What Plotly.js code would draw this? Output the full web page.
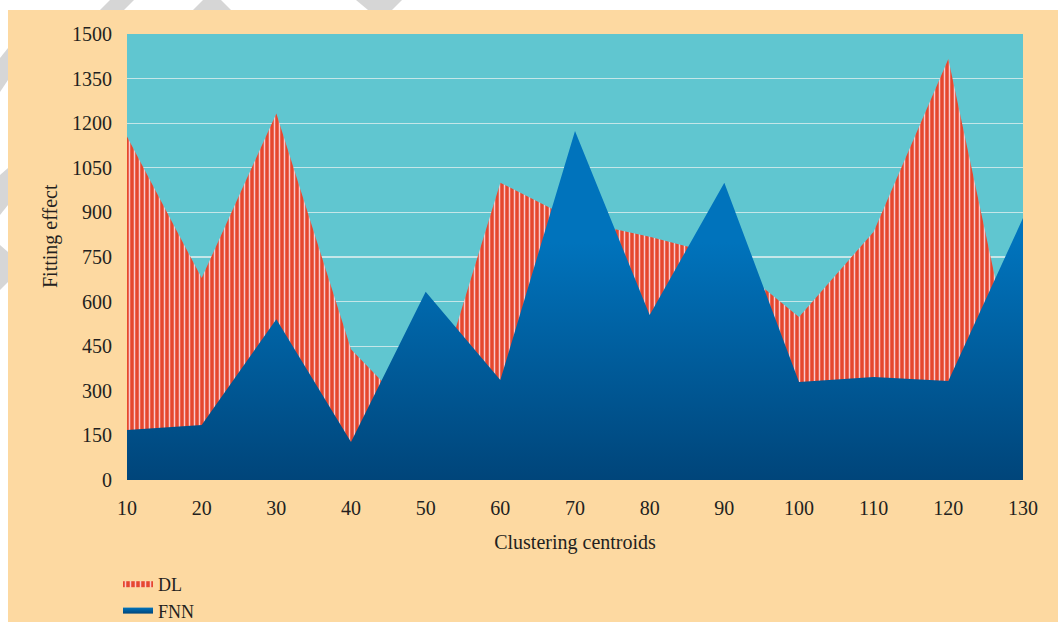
<!DOCTYPE html>
<html>
<head>
<meta charset="utf-8">
<script src="https://cdn.plot.ly/plotly-3.0.1.min.js"></script>
<style>
html,body{margin:0;padding:0;background:#ffffff;}
#chart{width:1058px;height:622px;}
</style>
</head>
<body>
<div id="chart"></div>
<script>
// ---- data ----
const centroids = [10, 20, 30, 40, 50, 60, 70, 80, 90, 100, 110, 120, 130];
const dlValues  = [1155, 679, 1233, 440, 180, 1000, 873, 818, 753, 548, 835, 1416, 240];
const fnnValues = [168, 185, 541, 128, 633, 336, 1174, 555, 1000, 330, 346, 333, 881];
const yTickValues = [0, 150, 300, 450, 600, 750, 900, 1050, 1200, 1350, 1500];
const xTickValues = [10, 20, 30, 40, 50, 60, 70, 80, 90, 100, 110, 120, 130];
const seriesNames = ['DL', 'FNN'];
const xTitle = 'Clustering centroids';
const yTitle = 'Fitting effect';

const serif = 'Liberation Serif, Times New Roman, serif';
const textColor = '#231f20';

const traces = [
  {
    x: centroids, y: dlValues, name: seriesNames[0],
    type: 'scatter', mode: 'none', fill: 'tozeroy',
    fillcolor: '#E6472E',
    fillpattern: {shape: '|', bgcolor: '#E6472E', fgcolor: '#F9C9CD', size: 5, solidity: 0.3},
    hoverinfo: 'x+y+name'
  },
  {
    x: centroids, y: fnnValues, name: seriesNames[1],
    type: 'scatter', mode: 'none', fill: 'tozeroy',
    fillcolor: '#0070B8',
    fillgradient: {type: 'vertical', start: 0, stop: 800,
      colorscale: [[0, '#00457A'], [1, '#0073BC']]},
    hoverinfo: 'x+y+name'
  }
];

// helpers converting page pixels to paper coordinates (decoration / placement only)
const L = 127, R = 1023, T = 34, B = 480;
const px = v => (v - L) / (R - L);
const py = v => (B - v) / (B - T);

const grey = '#d6d6d6';
const shapes = [
  // white page strip on top and left
  {type: 'rect', xref: 'paper', yref: 'paper', x0: px(0), x1: px(1058), y0: py(10), y1: py(0),
   fillcolor: '#ffffff', line: {width: 0}, layer: 'above'},
  {type: 'rect', xref: 'paper', yref: 'paper', x0: px(0), x1: px(8), y0: py(622), y1: py(0),
   fillcolor: '#ffffff', line: {width: 0}, layer: 'above'},
  // light grey watermark marks on the white strips
  {type: 'path', xref: 'paper', yref: 'paper', layer: 'above', fillcolor: grey, line: {width: 0},
   path: `M${px(100)},${py(10)} L${px(110)},${py(0)} L${px(134)},${py(0)} L${px(124)},${py(10)} Z`},
  {type: 'path', xref: 'paper', yref: 'paper', layer: 'above', fillcolor: grey, line: {width: 0},
   path: `M${px(193)},${py(10)} L${px(203)},${py(0)} L${px(221)},${py(0)} L${px(231)},${py(10)} Z`},
  {type: 'path', xref: 'paper', yref: 'paper', layer: 'above', fillcolor: grey, line: {width: 0},
   path: `M${px(356)},${py(0)} L${px(402)},${py(0)} L${px(392)},${py(10)} L${px(368)},${py(10)} Z`},
  {type: 'path', xref: 'paper', yref: 'paper', layer: 'above', fillcolor: grey, line: {width: 0},
   path: `M${px(0)},${py(58)} L${px(8)},${py(48)} L${px(8)},${py(80)} L${px(0)},${py(92)} Z`},
  {type: 'path', xref: 'paper', yref: 'paper', layer: 'above', fillcolor: grey, line: {width: 0},
   path: `M${px(0)},${py(175)} L${px(8)},${py(168)} L${px(8)},${py(205)} L${px(0)},${py(215)} Z`},
  {type: 'path', xref: 'paper', yref: 'paper', layer: 'above', fillcolor: grey, line: {width: 0},
   path: `M${px(0)},${py(245)} L${px(8)},${py(252)} L${px(8)},${py(282)} L${px(0)},${py(290)} Z`}
];

const annotations = [
  {text: yTitle, xref: 'paper', yref: 'paper', x: px(50), y: py(236),
   xanchor: 'center', yanchor: 'middle', textangle: -90, showarrow: false,
   font: {family: serif, size: 20, color: textColor}}
];

const layout = {
  width: 1058, height: 622,
  margin: {l: L, r: 1058 - R, t: T, b: 622 - B, pad: 0, autoexpand: false},
  paper_bgcolor: '#FDD9A1',
  plot_bgcolor: '#60C6D0',
  font: {family: serif, size: 20, color: textColor},
  showlegend: true,
  legend: {
    orientation: 'v', x: px(118), xanchor: 'left', y: py(566), yanchor: 'top',
    bgcolor: 'rgba(0,0,0,0)', font: {family: serif, size: 18, color: textColor},
    itemwidth: 30, tracegroupgap: 0, traceorder: 'normal'
  },
  xaxis: {
    range: [10, 130], tickvals: xTickValues, ticktext: xTickValues.map(String),
    showgrid: false, zeroline: false, showline: false, ticks: '',
    ticklabelstandoff: 14,
    tickfont: {family: serif, size: 20, color: textColor},
    title: {text: xTitle, standoff: 16, font: {family: serif, size: 20, color: textColor}}
  },
  yaxis: {
    range: [0, 1500], tickvals: yTickValues, ticktext: yTickValues.map(String),
    showgrid: true, gridcolor: 'rgba(215,235,236,0.85)', gridwidth: 1.3,
    zeroline: false, showline: false, ticks: '',
    ticklabelstandoff: 14,
    tickfont: {family: serif, size: 20, color: textColor}
  },
  annotations: annotations,
  shapes: shapes
};

Plotly.newPlot('chart', traces, layout, {displayModeBar: false, staticPlot: true});
</script>
</body>
</html>
